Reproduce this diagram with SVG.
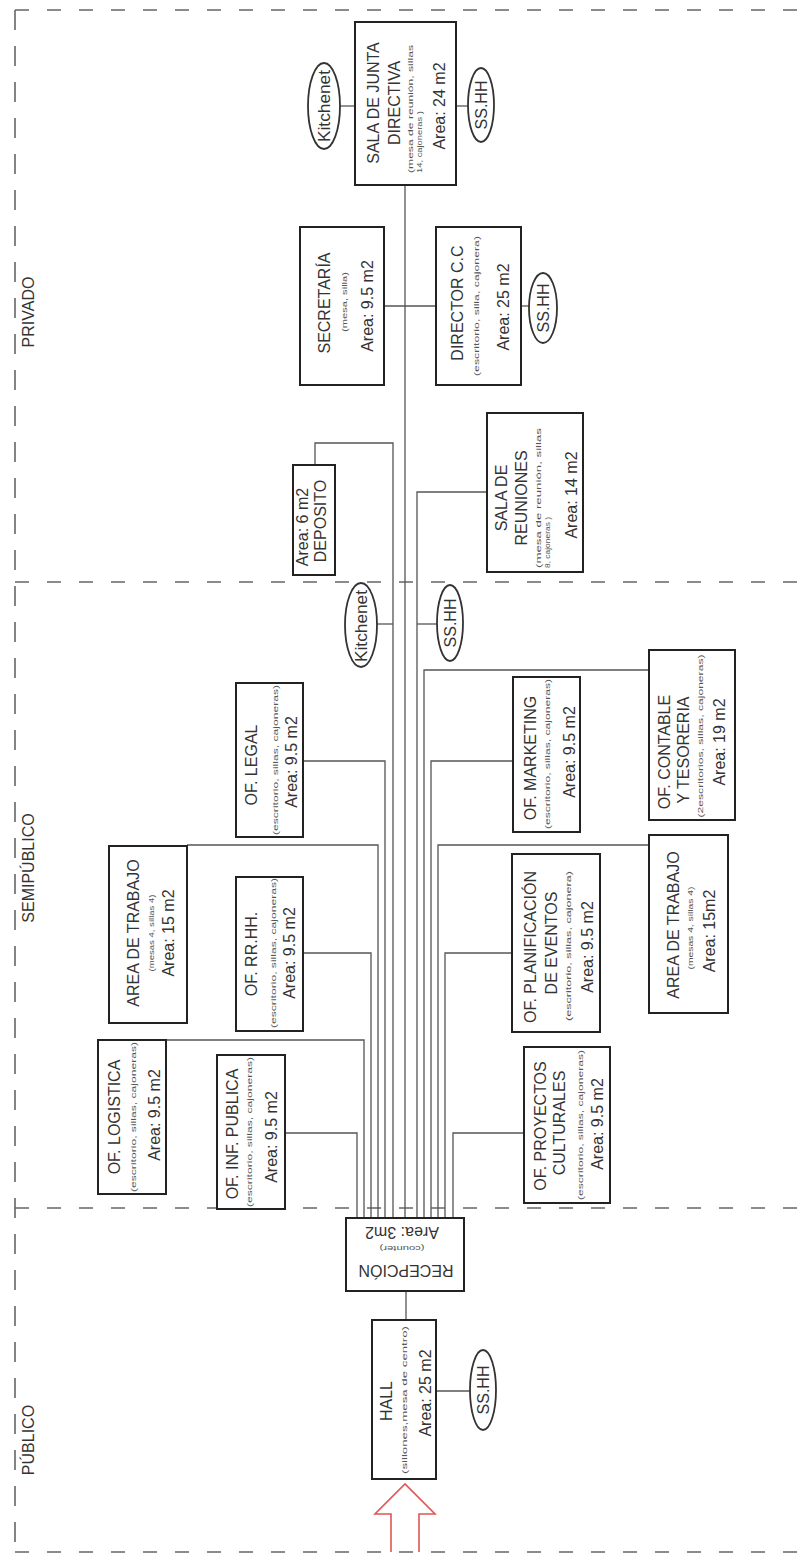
<svg xmlns="http://www.w3.org/2000/svg" width="797" height="1557" viewBox="0 0 797 1557">
<style>
.bg{fill:#fff}
.box{fill:#fff;stroke:#222;stroke-width:2}
.ell{fill:#fff;stroke:#333;stroke-width:1.8}
.t{font-family:"Liberation Sans",Arial,sans-serif;font-size:16px;fill:#333;text-anchor:middle}
.s{font-size:7.5px;fill:#555}
.st{text-anchor:start}
.w{fill:none;stroke:#555;stroke-width:1.3}
.dh{fill:none;stroke:#666;stroke-width:1.6;stroke-dasharray:14 18}
.dv{fill:none;stroke:#666;stroke-width:1.6;stroke-dasharray:20 16}
.arrow{fill:none;stroke:#e05555;stroke-width:1.6}
</style>
<rect class="bg" x="0" y="0" width="797" height="1557"/>

<g id="zones">
<path class="dv" d="M15,10 V1552"/>
<path class="dh" d="M15,10 H797"/>
<path class="dh" d="M15,582 H797"/>
<path class="dh" d="M15,1208 H797"/>
<path class="dh" d="M15,1552 H797"/>
<text class="t" x="34" y="312" transform="rotate(-90 34 312)">PRIVADO</text>
<text class="t" x="34" y="868" transform="rotate(-90 34 868)">SEMIPÚBLICO</text>
<text class="t" x="34" y="1440" transform="rotate(-90 34 1440)">PÚBLICO</text>
</g>

<g id="connectors">
<path class="w" d="M405,185 V1218"/>
<path class="w" d="M340,106 H355"/>
<path class="w" d="M456,106 H468"/>
<path class="w" d="M384,306 H436"/>
<path class="w" d="M521,306 H529"/>
<path class="w" d="M315,465 V443 H393 V1218"/>
<path class="w" d="M377,624 H393"/>
<path class="w" d="M487,492 H417 V1218"/>
<path class="w" d="M417,624 H437"/>
<path class="w" d="M649,670 H424 V1218"/>
<path class="w" d="M303,761 H385 V1218"/>
<path class="w" d="M513,761 H431 V1218"/>
<path class="w" d="M187,845 H378 V1218"/>
<path class="w" d="M649,845 H438 V1218"/>
<path class="w" d="M303,953 H371 V1218"/>
<path class="w" d="M512,953 H445 V1218"/>
<path class="w" d="M166,1040 H364 V1218"/>
<path class="w" d="M285,1133 H357 V1218"/>
<path class="w" d="M524,1133 H453 V1218"/>
<path class="w" d="M406,1291 V1320"/>
<path class="w" d="M436,1391 H470"/>
<path class="arrow" d="M391,1552 V1514 H375 L405,1484 L435,1514 H419 V1552"/>
</g>

<g id="n-junta">
<rect class="box" x="355" y="22" width="101" height="163"/>
<text class="t" x="379" y="103" transform="rotate(-90 379 103)">SALA DE JUNTA</text>
<text class="t" x="400" y="103" transform="rotate(-90 400 103)">DIRECTIVA</text>
<text class="t s st" x="413" y="173" textLength="128" lengthAdjust="spacingAndGlyphs" transform="rotate(-90 413 173)">(mesa de reunión, sillas</text>
<text class="t s st" x="422" y="173" textLength="62" lengthAdjust="spacingAndGlyphs" transform="rotate(-90 422 173)">14, cajoneras )</text>
<text class="t" x="445" y="106" transform="rotate(-90 445 106)">Area: 24 m2</text>
</g>
<g id="n-kitchenet1">
<ellipse class="ell" cx="324" cy="106" rx="16" ry="43"/>
<text class="t" x="329.5" y="106" textLength="72" lengthAdjust="spacingAndGlyphs" transform="rotate(-90 329.5 106)">Kitchenet</text>
</g>
<g id="n-sshh1">
<ellipse class="ell" cx="481" cy="105" rx="13" ry="37"/>
<text class="t" x="486.5" y="105" transform="rotate(-90 486.5 105)">SS.HH</text>
</g>

<g id="n-secretaria">
<rect class="box" x="300" y="227" width="84" height="158"/>
<text class="t" x="330" y="303" transform="rotate(-90 330 303)">SECRETARÍA</text>
<text class="t s" x="347" y="302" textLength="60" lengthAdjust="spacingAndGlyphs" transform="rotate(-90 347 302)">(mesa, silla)</text>
<text class="t" x="373" y="306" transform="rotate(-90 373 306)">Area: 9.5 m2</text>
</g>
<g id="n-director">
<rect class="box" x="436" y="227" width="85" height="158"/>
<text class="t" x="463" y="303" transform="rotate(-90 463 303)">DIRECTOR C.C</text>
<text class="t s" x="479" y="306" textLength="140" lengthAdjust="spacingAndGlyphs" transform="rotate(-90 479 306)">(escritorio, silla, cajonera)</text>
<text class="t" x="509" y="307" transform="rotate(-90 509 307)">Area: 25 m2</text>
</g>
<g id="n-sshh2">
<ellipse class="ell" cx="543" cy="308" rx="14" ry="35"/>
<text class="t" x="549" y="308" transform="rotate(-90 549 308)">SS.HH</text>
</g>

<g id="n-deposito">
<rect class="box" x="293" y="465" width="42" height="110"/>
<text class="t" x="308" y="527" transform="rotate(-90 308 527)">Area: 6 m2</text>
<text class="t" x="326" y="521" transform="rotate(-90 326 521)">DEPOSITO</text>
</g>
<g id="n-reuniones">
<rect class="box" x="487" y="413" width="96" height="159"/>
<text class="t" x="507" y="498" transform="rotate(-90 507 498)">SALA DE</text>
<text class="t" x="527" y="498" transform="rotate(-90 527 498)">REUNIONES</text>
<text class="t s st" x="541" y="568" textLength="140" lengthAdjust="spacingAndGlyphs" transform="rotate(-90 541 568)">(mesa de reunión, sillas</text>
<text class="t s st" x="550" y="568" textLength="51" lengthAdjust="spacingAndGlyphs" transform="rotate(-90 550 568)">8, cajoneras )</text>
<text class="t" x="577" y="495" transform="rotate(-90 577 495)">Area: 14 m2</text>
</g>

<g id="n-kitchenet2">
<ellipse class="ell" cx="361" cy="625" rx="16" ry="42"/>
<text class="t" x="366.5" y="626" textLength="72" lengthAdjust="spacingAndGlyphs" transform="rotate(-90 366.5 626)">Kitchenet</text>
</g>
<g id="n-sshh3">
<ellipse class="ell" cx="450" cy="623" rx="13" ry="38"/>
<text class="t" x="455.5" y="623" transform="rotate(-90 455.5 623)">SS.HH</text>
</g>

<g id="n-legal">
<rect class="box" x="236" y="683" width="67" height="154"/>
<text class="t" x="257" y="765" transform="rotate(-90 257 765)">OF. LEGAL</text>
<text class="t s" x="278" y="760" textLength="150" lengthAdjust="spacingAndGlyphs" transform="rotate(-90 278 760)">(escritorio, sillas, cajoneras)</text>
<text class="t" x="297" y="762" transform="rotate(-90 297 762)">Area: 9.5 m2</text>
</g>
<g id="n-marketing">
<rect class="box" x="513" y="677" width="67" height="155"/>
<text class="t" x="536" y="758" transform="rotate(-90 536 758)">OF. MARKETING</text>
<text class="t s" x="550" y="754" textLength="150" lengthAdjust="spacingAndGlyphs" transform="rotate(-90 550 754)">(escritorio, sillas, cajoneras)</text>
<text class="t" x="575" y="752" transform="rotate(-90 575 752)">Area: 9.5 m2</text>
</g>
<g id="n-contable">
<rect class="box" x="649" y="650" width="86" height="170"/>
<text class="t" x="670" y="752" transform="rotate(-90 670 752)">OF. CONTABLE</text>
<text class="t" x="689" y="750" transform="rotate(-90 689 750)">Y TESORERIA</text>
<text class="t s" x="703" y="736" textLength="163" lengthAdjust="spacingAndGlyphs" transform="rotate(-90 703 736)">(2escritorios, sillas, cajoneras)</text>
<text class="t" x="725" y="742" transform="rotate(-90 725 742)">Area: 19 m2</text>
</g>

<g id="n-trabajo1">
<rect class="box" x="109" y="846" width="78" height="177"/>
<text class="t" x="139" y="933" transform="rotate(-90 139 933)">AREA DE TRABAJO</text>
<text class="t s" x="154" y="933" textLength="77" lengthAdjust="spacingAndGlyphs" transform="rotate(-90 154 933)">(mesas 4, sillas 4)</text>
<text class="t" x="174" y="933" transform="rotate(-90 174 933)">Area: 15 m2</text>
</g>
<g id="n-rrhh">
<rect class="box" x="236" y="877" width="67" height="154"/>
<text class="t" x="257" y="954" transform="rotate(-90 257 954)">OF. RR.HH.</text>
<text class="t s" x="276" y="953" textLength="150" lengthAdjust="spacingAndGlyphs" transform="rotate(-90 276 953)">(escritorio, sillas, cajoneras)</text>
<text class="t" x="295" y="953" transform="rotate(-90 295 953)">Area: 9.5 m2</text>
</g>
<g id="n-planificacion">
<rect class="box" x="512" y="854" width="88" height="178"/>
<text class="t" x="536" y="947" transform="rotate(-90 536 947)">OF. PLANIFICACIÓN</text>
<text class="t" x="557" y="943" transform="rotate(-90 557 943)">DE EVENTOS</text>
<text class="t s" x="571" y="946" textLength="150" lengthAdjust="spacingAndGlyphs" transform="rotate(-90 571 946)">(escritorio, sillas, cajonera)</text>
<text class="t" x="593" y="947" transform="rotate(-90 593 947)">Area: 9.5 m2</text>
</g>
<g id="n-trabajo2">
<rect class="box" x="649" y="835" width="79" height="178"/>
<text class="t" x="679" y="925" transform="rotate(-90 679 925)">AREA DE TRABAJO</text>
<text class="t s" x="693" y="928" textLength="83" lengthAdjust="spacingAndGlyphs" transform="rotate(-90 693 928)">(mesas 4, sillas 4)</text>
<text class="t" x="715" y="931" transform="rotate(-90 715 931)">Area: 15m2</text>
</g>

<g id="n-logistica">
<rect class="box" x="98" y="1040" width="68" height="154"/>
<text class="t" x="120" y="1117" transform="rotate(-90 120 1117)">OF. LOGISTICA</text>
<text class="t s" x="136" y="1117" textLength="150" lengthAdjust="spacingAndGlyphs" transform="rotate(-90 136 1117)">(escritorio, sillas, cajoneras)</text>
<text class="t" x="160" y="1115" transform="rotate(-90 160 1115)">Area: 9.5 m2</text>
</g>
<g id="n-infpublica">
<rect class="box" x="217" y="1055" width="68" height="154"/>
<text class="t" x="238" y="1134" transform="rotate(-90 238 1134)">OF. INF. PUBLICA</text>
<text class="t s" x="252" y="1132" textLength="150" lengthAdjust="spacingAndGlyphs" transform="rotate(-90 252 1132)">(escritorio, sillas, cajoneras)</text>
<text class="t" x="277" y="1137" transform="rotate(-90 277 1137)">Area: 9.5 m2</text>
</g>
<g id="n-proyectos">
<rect class="box" x="524" y="1047" width="86" height="156"/>
<text class="t" x="546" y="1126" transform="rotate(-90 546 1126)">OF. PROYECTOS</text>
<text class="t" x="565" y="1123" transform="rotate(-90 565 1123)">CULTURALES</text>
<text class="t s" x="583" y="1125" textLength="150" lengthAdjust="spacingAndGlyphs" transform="rotate(-90 583 1125)">(escritorio, sillas, cajoneras)</text>
<text class="t" x="603" y="1124" transform="rotate(-90 603 1124)">Area: 9.5 m2</text>
</g>

<g id="n-recepcion">
<rect class="box" x="346" y="1218" width="118" height="73"/>
<text class="t" x="406" y="1265" transform="rotate(180 406 1265)">RECEPCIÓN</text>
<text class="t s" x="402" y="1246" textLength="45" lengthAdjust="spacingAndGlyphs" transform="rotate(180 402 1246)">(counter)</text>
<text class="t" x="402" y="1227" transform="rotate(180 402 1227)">Area: 3m2</text>
</g>
<g id="n-hall">
<rect class="box" x="372" y="1320" width="64" height="159"/>
<text class="t" x="392" y="1401" transform="rotate(-90 392 1401)">HALL</text>
<text class="t s" x="407" y="1400" textLength="148" lengthAdjust="spacingAndGlyphs" transform="rotate(-90 407 1400)">(sillones,mesa de centro)</text>
<text class="t" x="431" y="1393" transform="rotate(-90 431 1393)">Area: 25 m2</text>
</g>
<g id="n-sshh4">
<ellipse class="ell" cx="483" cy="1390" rx="13" ry="40"/>
<text class="t" x="488.5" y="1390" transform="rotate(-90 488.5 1390)">SS.HH</text>
</g>
</svg>
